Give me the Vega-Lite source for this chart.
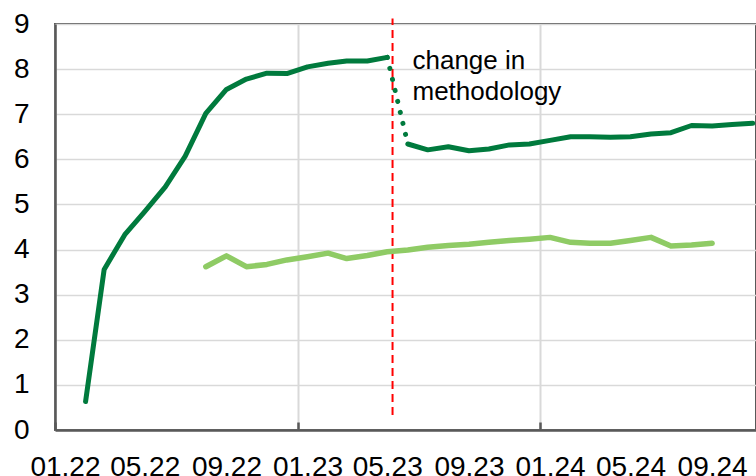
{
  "$schema": "https://vega.github.io/schema/vega-lite/v6.json",
  "width": 701,
  "height": 406,
  "autosize": "none",
  "padding": {"left": 55, "top": 24, "right": 0, "bottom": 46},
  "background": "white",
  "config": {
    "font": "Liberation Sans",
    "view": {"stroke": "#595959", "strokeWidth": 2},
    "axisY": {
      "domainColor": "#595959",
      "domainWidth": 2.5,
      "ticks": false,
      "labelFontSize": 28,
      "labelColor": "black",
      "labelPadding": 26,
      "gridColor": "#d9d9d9",
      "gridWidth": 1.5
    }
  },
  "data": {
    "values": [
      {"date": "2022-02-16", "series": "before", "value": 0.63},
      {"date": "2022-03-16", "series": "before", "value": 3.56},
      {"date": "2022-04-16", "series": "before", "value": 4.33},
      {"date": "2022-05-16", "series": "before", "value": 4.84},
      {"date": "2022-06-16", "series": "before", "value": 5.39},
      {"date": "2022-07-16", "series": "before", "value": 6.07},
      {"date": "2022-08-16", "series": "before", "value": 7.02},
      {"date": "2022-09-16", "series": "before", "value": 7.55},
      {"date": "2022-10-16", "series": "before", "value": 7.78},
      {"date": "2022-11-16", "series": "before", "value": 7.91},
      {"date": "2022-12-16", "series": "before", "value": 7.9},
      {"date": "2023-01-16", "series": "before", "value": 8.05},
      {"date": "2023-02-16", "series": "before", "value": 8.13},
      {"date": "2023-03-16", "series": "before", "value": 8.18},
      {"date": "2023-04-16", "series": "before", "value": 8.18},
      {"date": "2023-05-16", "series": "before", "value": 8.26},
      {"date": "2023-05-16", "series": "bridge", "value": 8.26},
      {"date": "2023-06-16", "series": "bridge", "value": 6.34},
      {"date": "2023-06-16", "series": "after", "value": 6.34},
      {"date": "2023-07-16", "series": "after", "value": 6.21},
      {"date": "2023-08-16", "series": "after", "value": 6.28},
      {"date": "2023-09-16", "series": "after", "value": 6.19},
      {"date": "2023-10-16", "series": "after", "value": 6.23},
      {"date": "2023-11-16", "series": "after", "value": 6.32},
      {"date": "2023-12-16", "series": "after", "value": 6.34},
      {"date": "2024-01-16", "series": "after", "value": 6.42},
      {"date": "2024-02-16", "series": "after", "value": 6.5},
      {"date": "2024-03-16", "series": "after", "value": 6.5},
      {"date": "2024-04-16", "series": "after", "value": 6.49},
      {"date": "2024-05-16", "series": "after", "value": 6.5},
      {"date": "2024-06-16", "series": "after", "value": 6.56},
      {"date": "2024-07-16", "series": "after", "value": 6.59},
      {"date": "2024-08-16", "series": "after", "value": 6.75},
      {"date": "2024-09-16", "series": "after", "value": 6.74},
      {"date": "2024-10-16", "series": "after", "value": 6.77},
      {"date": "2024-11-16", "series": "after", "value": 6.8},
      {"date": "2022-08-16", "series": "light", "value": 3.62},
      {"date": "2022-09-16", "series": "light", "value": 3.86},
      {"date": "2022-10-16", "series": "light", "value": 3.62},
      {"date": "2022-11-16", "series": "light", "value": 3.67},
      {"date": "2022-12-16", "series": "light", "value": 3.77},
      {"date": "2023-01-16", "series": "light", "value": 3.84},
      {"date": "2023-02-16", "series": "light", "value": 3.92},
      {"date": "2023-03-16", "series": "light", "value": 3.8},
      {"date": "2023-04-16", "series": "light", "value": 3.87},
      {"date": "2023-05-16", "series": "light", "value": 3.95},
      {"date": "2023-06-16", "series": "light", "value": 3.99},
      {"date": "2023-07-16", "series": "light", "value": 4.05},
      {"date": "2023-08-16", "series": "light", "value": 4.09},
      {"date": "2023-09-16", "series": "light", "value": 4.12},
      {"date": "2023-10-16", "series": "light", "value": 4.16},
      {"date": "2023-11-16", "series": "light", "value": 4.2},
      {"date": "2023-12-16", "series": "light", "value": 4.23},
      {"date": "2024-01-16", "series": "light", "value": 4.27},
      {"date": "2024-02-16", "series": "light", "value": 4.16},
      {"date": "2024-03-16", "series": "light", "value": 4.14},
      {"date": "2024-04-16", "series": "light", "value": 4.14},
      {"date": "2024-05-16", "series": "light", "value": 4.2},
      {"date": "2024-06-16", "series": "light", "value": 4.27},
      {"date": "2024-07-16", "series": "light", "value": 4.08},
      {"date": "2024-08-16", "series": "light", "value": 4.1},
      {"date": "2024-09-16", "series": "light", "value": 4.14}
    ]
  },
  "resolve": {"axis": {"x": "independent"}},
  "layer": [
    {
      "data": {"values": [{"date": "2023-05-24", "low": 0.33, "high": 9.12}]},
      "mark": {"type": "rule", "color": "#ff0000", "strokeWidth": 2, "strokeDash": [8, 5]},
      "encoding": {
        "x": {
          "field": "date", "type": "temporal",
          "scale": {"type": "utc", "domain": [{"year": 2022, "month": 1, "date": 1, "utc": true}, {"year": 2024, "month": 11, "date": 21, "utc": true}]},
          "axis": {
            "orient": "bottom",
            "values": [{"year": 2022, "month": 1, "date": 1, "utc": true}, {"year": 2023, "month": 1, "date": 1, "utc": true}, {"year": 2024, "month": 1, "date": 1, "utc": true}],
            "labels": false, "domain": false, "title": null,
            "grid": true, "gridColor": "#d9d9d9", "gridWidth": 2,
            "ticks": true, "tickSize": -8, "tickColor": "#595959", "tickWidth": 2.5
          }
        },
        "y": {"field": "low", "type": "quantitative", "title": null},
        "y2": {"field": "high"}
      }
    },
    {
      "transform": [{"filter": "datum.series === 'light'"}],
      "mark": {"type": "line", "color": "#8fcb65", "strokeWidth": 5.5, "strokeCap": "round", "strokeJoin": "round"},
      "encoding": {
        "x": {"field": "date", "type": "temporal", "axis": null},
        "y": {"field": "value", "type": "quantitative", "title": null}
      }
    },
    {
      "transform": [{"filter": "datum.series === 'bridge'"}],
      "mark": {"type": "line", "color": "#007a3d", "strokeWidth": 5, "strokeCap": "round", "strokeDash": [0.1, 11.2]},
      "encoding": {
        "x": {"field": "date", "type": "temporal", "axis": null},
        "y": {"field": "value", "type": "quantitative", "title": null}
      }
    },
    {
      "transform": [{"filter": "datum.series === 'before' || datum.series === 'after'"}],
      "mark": {"type": "line", "color": "#007a3d", "strokeWidth": 5, "strokeCap": "round", "strokeJoin": "round"},
      "encoding": {
        "detail": {"field": "series"},
        "x": {
          "field": "date", "type": "temporal",
          "axis": {
            "orient": "bottom",
            "values": [
              {"year": 2022, "month": 1, "date": 16, "utc": true},
              {"year": 2022, "month": 5, "date": 16, "utc": true},
              {"year": 2022, "month": 9, "date": 16, "utc": true},
              {"year": 2023, "month": 1, "date": 16, "utc": true},
              {"year": 2023, "month": 5, "date": 16, "utc": true},
              {"year": 2023, "month": 9, "date": 16, "utc": true},
              {"year": 2024, "month": 1, "date": 16, "utc": true},
              {"year": 2024, "month": 5, "date": 16, "utc": true},
              {"year": 2024, "month": 9, "date": 16, "utc": true}
            ],
            "labelExpr": "utcFormat(datum.value, '%m.%y')",
            "grid": false, "ticks": false, "title": null,
            "domain": true, "domainColor": "#595959", "domainWidth": 2.5,
            "labelFontSize": 28, "labelColor": "black",
            "labelBaseline": "alphabetic", "labelPadding": 45,
            "labelOverlap": false, "labelFlush": false, "labelBound": false
          }
        },
        "y": {
          "field": "value", "type": "quantitative", "title": null,
          "scale": {"domain": [0, 9], "nice": false},
          "axis": {"values": [0, 1, 2, 3, 4, 5, 6, 7, 8, 9]}
        }
      }
    },
    {
      "data": {"values": [{"date": "2023-06-23", "value": 8.0, "label": "change in\nmethodology"}]},
      "mark": {"type": "text", "align": "left", "baseline": "alphabetic", "fontSize": 26, "lineHeight": 31, "lineBreak": "\n", "color": "black", "font": "Liberation Sans"},
      "encoding": {
        "x": {"field": "date", "type": "temporal", "axis": null},
        "y": {"field": "value", "type": "quantitative", "title": null},
        "text": {"field": "label"}
      }
    }
  ]
}
